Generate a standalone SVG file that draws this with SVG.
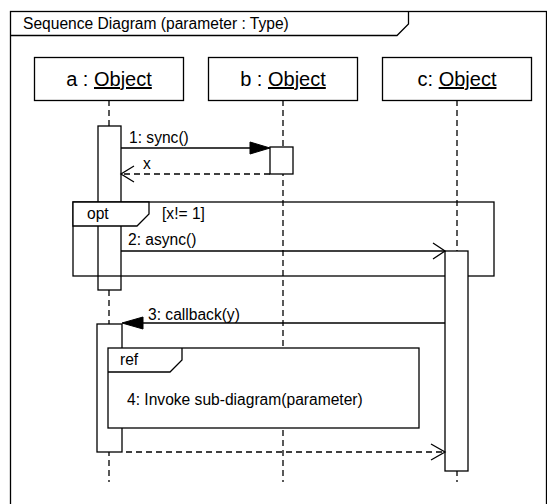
<svg xmlns="http://www.w3.org/2000/svg" width="547" height="504" viewBox="0 0 547 504">
<style>
  .ln{fill:none;stroke:#000;stroke-width:1.3}
  .box{fill:#fff;stroke:#000;stroke-width:1.3}
  .life{fill:none;stroke:#000;stroke-width:1.3;stroke-dasharray:6 4}
  .dash{fill:none;stroke:#000;stroke-width:1.3;stroke-dasharray:6 4}
  .t{font-family:"Liberation Sans",Arial,sans-serif;font-size:15.6px;fill:#000}
  .obj{font-family:"Liberation Sans",Arial,sans-serif;font-size:20px;fill:#000;text-anchor:middle}
  .fill{fill:#000;stroke:#000;stroke-width:1}
</style>
<rect width="547" height="504" fill="#fff"/>
<g id="frame">
  <rect class="ln" x="10.5" y="11.5" width="536" height="500"/>
  <path class="ln" d="M10.5,35.5 H397 L408.5,24 V11.5"/>
  <text class="t" x="23" y="29">Sequence Diagram (parameter : Type)</text>
</g>
<g id="lifelines">
  <line class="life" x1="109" y1="100" x2="109" y2="482"/>
  <line class="life" x1="283" y1="100" x2="283" y2="482"/>
  <line class="life" x1="457" y1="100" x2="457" y2="482"/>
</g>
<g id="a">
  <rect class="box" x="34.5" y="57.5" width="149" height="43"/>
  <text class="obj" x="109" y="86">a : <tspan text-decoration="underline">Object</tspan></text>
</g>
<g id="b">
  <rect class="box" x="208.5" y="57.5" width="149" height="43"/>
  <text class="obj" x="283" y="86">b : <tspan text-decoration="underline">Object</tspan></text>
</g>
<g id="c">
  <rect class="box" x="382.5" y="57.5" width="149" height="43"/>
  <text class="obj" x="457" y="86">c: <tspan text-decoration="underline">Object</tspan></text>
</g>
<g id="a-activation-1">
  <rect class="box" x="98" y="126" width="23" height="164"/>
</g>
<g id="b-activation">
  <rect class="box" x="270" y="147" width="23" height="27"/>
</g>
<g id="opt">
  <rect class="ln" x="73" y="202" width="421" height="74"/>
  <path class="box" d="M73,202 V226 H137 L149,214 V202 Z"/>
  <text class="t" x="87" y="219">opt</text>
  <text class="t" x="162" y="219">[x!= 1]</text>
</g>
<g id="c-activation">
  <rect class="box" x="445" y="251" width="23" height="220"/>
</g>
<g id="a-activation-2">
  <rect class="box" x="97" y="324" width="25" height="128"/>
</g>
<g id="ref">
  <rect class="box" x="108" y="348" width="311" height="80"/>
  <path class="ln" d="M108,372 H170 L182,360 V348"/>
  <text class="t" x="120" y="365">ref</text>
  <text class="t" x="127" y="405">4: Invoke sub-diagram(parameter)</text>
</g>
<g id="connectors">
  <line class="ln" x1="121" y1="148" x2="252" y2="148"/>
  <path class="fill" d="M270,148 L250,142 L250,154 Z"/>
  <text class="t" x="129" y="143">1: sync()</text>

  <line class="dash" x1="270" y1="174" x2="122" y2="174"/>
  <path class="ln" d="M134,166 L121,174 L134,182"/>
  <text class="t" x="143" y="169">x</text>

  <line class="ln" x1="121" y1="251" x2="445" y2="251"/>
  <path class="ln" d="M433,243 L445,251 L433,259"/>
  <text class="t" x="128" y="245">2: async()</text>

  <line class="ln" x1="445" y1="323" x2="140" y2="323"/>
  <path class="fill" d="M122,323 L143,317 L143,329 Z"/>
  <text class="t" x="148" y="320">3: callback(y)</text>

  <line class="dash" x1="126" y1="452" x2="444" y2="452"/>
  <path class="ln" d="M431,444 L445,452 L431,460"/>
</g>
</svg>
